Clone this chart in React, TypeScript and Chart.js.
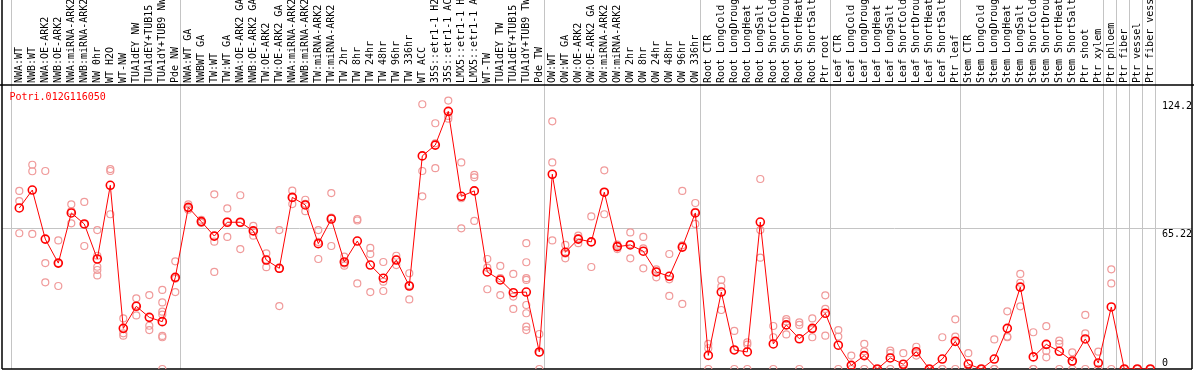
import React, { useEffect, useRef } from 'react';
import { Chart, registerables } from 'chart.js';

Chart.register(...registerables);

const geneId = 'Potri.012G116050';

const categories: string[] = [
  'NWA:WT', 'NWB:WT', 'NWA:OE-ARK2', 'NWB:OE-ARK2', 'NWA:miRNA-ARK2', 'NWB:miRNA-ARK2',
  'NW 0hr', 'WT H2O', 'WT-NW', 'TUA1dEY NW', 'TUA1dEY+TUB15', 'TUA1dY+TUB9 NW', 'Pde NW',
  'NWA:WT GA', 'NWBWT GA', 'TW:WT', 'TW:WT GA', 'NWA:OE-ARK2 GA', 'NWB:OE-ARK2 GA',
  'TW:OE-ARK2', 'TW:OE-ARK2 GA', 'NWA:miRNA-ARK2', 'NWB:miRNA-ARK2', 'TW:miRNA-ARK2',
  'TW:miRNA-ARK2', 'TW 2hr', 'TW 8hr', 'TW 24hr', 'TW 48hr', 'TW 96hr', 'TW 336hr',
  'WT ACC', '35S::etr1-1 H2O', '35S::etr1-1 ACC', 'LMX5::etr1-1 H2O', 'LMX5::etr1-1 ACC',
  'WT-TW', 'TUA1dEY TW', 'TUA1dEY+TUB15', 'TUA1dY+TUB9 TW', 'Pde TW',
  'OW:WT', 'OW:WT GA', 'OW:OE-ARK2', 'OW:OE-ARK2 GA', 'OW:miRNA-ARK2', 'OW:miRNA-ARK2',
  'OW 2hr', 'OW 8hr', 'OW 24hr', 'OW 48hr', 'OW 96hr', 'OW 336hr',
  'Root CTR', 'Root LongCold', 'Root LongDrought', 'Root LongHeat', 'Root LongSalt',
  'Root ShortCold', 'Root ShortDrought', 'Root ShortHeat', 'Root ShortSalt', 'Ptr root',
  'Leaf CTR', 'Leaf LongCold', 'Leaf LongDrought', 'Leaf LongHeat', 'Leaf LongSalt',
  'Leaf ShortCold', 'Leaf ShortDrought', 'Leaf ShortHeat', 'Leaf ShortSalt', 'Ptr leaf',
  'Stem CTR', 'Stem LongCold', 'Stem LongDrought', 'Stem LongHeat', 'Stem LongSalt',
  'Stem ShortCold', 'Stem ShortDrought', 'Stem ShortHeat', 'Stem ShortSalt', 'Ptr shoot',
  'Ptr xylem', 'Ptr phloem', 'Ptr fiber', 'Ptr vessel', 'Ptr fiber vessel',
];

const meanValues: number[] = [
  74.5, 82.8, 60.1, 49.0, 72.2, 67.1, 50.9, 85.0, 18.8, 29.0, 23.9, 21.9, 42.4,
  74.8, 68.2, 61.5, 67.9, 67.9, 63.9, 50.4, 46.6, 79.4, 75.9, 58.0, 69.4, 49.5, 59.2,
  48.1, 42.0, 50.4, 38.4, 98.6, 103.6, 119.2, 79.9, 82.4, 44.9, 41.2, 35.3, 35.6, 7.9,
  90.1, 54.0, 60.1, 58.8, 81.8, 56.6, 57.4, 54.5, 44.9, 42.9, 56.4, 72.2,
  6.3, 35.6, 8.8, 7.9, 68.0, 11.6, 20.4, 14.0, 18.8, 25.8,
  11.0, 1.7, 6.2, 0, 5.1, 2.2, 8.0, 0, 4.6, 12.8,
  2.3, 0, 4.6, 18.8, 37.9, 5.6, 11.4, 8.2, 3.7, 13.9,
  2.8, 28.7, 0, 0, 0,
];

const replicateValues: number[][] = [
  [82.4, 77.7, 62.8], [94.5, 91.5, 62.5], [91.6, 49.0, 40.1], [59.5, 49.0, 38.4],
  [76.2, 73.0, 67.4], [77.3, 67.0, 56.9], [64.3, 52.4, 47.3, 45.8, 43.3], [92.5, 91.6, 71.6],
  [23.4, 16.5, 15.4], [32.7, 29.5, 24.8], [34.2, 20.0, 18.0],
  [36.6, 30.8, 26.5, 25.2, 15.3, 14.7, 0], [49.8, 41.8, 35.6],
  [76.2, 74.5, 73.7], [69.0, 68.0, 67.6], [80.8, 58.9, 44.9], [74.3, 68.2, 61.1],
  [80.4, 67.8, 55.5], [66.2, 63.8, 61.7], [53.5, 50.6, 47.1], [64.3, 46.4, 29.1],
  [82.5, 79.4, 76.3], [78.3, 76.4, 73.0], [64.3, 58.8, 50.9], [81.4, 70.0, 56.9],
  [52.0, 48.8, 47.8], [69.3, 68.7, 39.6], [56.0, 53.2, 35.6], [49.5, 40.4, 36.1],
  [52.4, 50.7, 48.1], [44.3, 38.7, 32.2], [122.5, 91.6, 79.9], [113.7, 104.4, 92.9],
  [124.2, 117.1, 115.8], [95.6, 79.0, 65.1], [89.8, 88.7, 68.5], [50.9, 46.9, 36.9],
  [47.7, 42.0, 34.2], [44.0, 33.5, 27.8], [58.2, 49.4, 42.0, 41.2, 29.6, 25.8, 19.6, 18.0],
  [16.2, 7.5, 0],
  [114.6, 95.6, 59.5], [57.4, 53.4, 51.2], [61.7, 60.4, 58.2], [70.6, 58.8, 47.2],
  [91.9, 81.8, 71.6], [57.5, 56.8, 55.5], [63.2, 57.8, 51.2], [61.1, 55.8, 46.6],
  [46.1, 45.0, 42.4], [53.2, 41.5, 33.8], [82.4, 57.2, 30.1], [76.8, 72.7, 67.1],
  [11.6, 9.6, 0], [41.2, 38.1, 27.3], [17.6, 8.8, 0], [12.3, 11.3, 0], [87.9, 64.3, 51.5],
  [19.9, 14.7, 0], [23.1, 22.0, 16.0], [21.6, 20.4, 0], [23.4, 18.3, 14.7], [34.1, 27.8, 15.4],
  [18.0, 15.0, 0], [6.2, 0, 0], [11.6, 8.2, 0], [0, 0, 0], [8.5, 7.3, 0], [7.3, 0, 0],
  [10.3, 7.5, 6.2], [0, 0, 0], [14.7, 0, 0], [23.0, 15.0, 0],
  [7.3, 0, 0], [0, 0, 0], [13.7, 0, 0], [26.7, 15.0, 14.7], [44.0, 39.9, 29.0],
  [17.0, 0, 0], [19.8, 8.3, 5.4], [13.1, 11.6, 0], [7.7, 3.4, 0], [25.0, 16.5, 0],
  [8.0, 0, 0], [46.1, 39.6, 0], [0, 0, 0], [0, 0, 0], [0, 0, 0],
];

// index of the last column of each group (a separator line follows it)
const groupEnds: number[] = [-1, 12, 40, 52, 62, 72, 83, 84, 85, 86, 87];

const yTickValues: number[] = [0, 65.22, 124.2];
const yAxisMax = 131.4;

const W = 1194;
const H = 370;
const FONT = '"DejaVu Sans Mono", "Liberation Mono", monospace';
const COL_PX = 13;
const FIRST_COL_PX = 19.3;
const PLOT_LEFT = 2;
const PLOT_RIGHT = 1192;
const xMin = -(FIRST_COL_PX - PLOT_LEFT) / COL_PX;
const xMax = xMin + (PLOT_RIGHT - PLOT_LEFT) / COL_PX;
const SEP_OFFSET = 5 / COL_PX;
const GRID = '#c4c4c4';

const chromePlugin = {
  id: 'chrome',
  beforeDatasetsDraw(chart: any) {
    const { ctx, chartArea } = chart;
    ctx.save();
    ctx.strokeStyle = '#000';
    ctx.lineWidth = 1.5;
    ctx.beginPath();
    ctx.moveTo(0, chartArea.top);
    ctx.lineTo(W, chartArea.top);
    ctx.moveTo(chartArea.left, 0);
    ctx.lineTo(chartArea.left, chartArea.bottom);
    ctx.moveTo(chartArea.right, 0);
    ctx.lineTo(chartArea.right, chartArea.bottom);
    ctx.moveTo(chartArea.left, chartArea.bottom);
    ctx.lineTo(chartArea.right, chartArea.bottom);
    ctx.stroke();
    ctx.fillStyle = '#ff0000';
    ctx.font = `10px ${FONT}`;
    ctx.textBaseline = 'middle';
    ctx.textAlign = 'left';
    ctx.fillText(geneId, chartArea.left + 7.5, chartArea.top + 12);
    ctx.restore();
  },
};

export default function App() {
  const ref = useRef<HTMLCanvasElement>(null);

  useEffect(() => {
    const canvas = ref.current;
    if (!canvas) return;
    const meanData = meanValues.map((v, i) => ({ x: i, y: v }));
    const repData = replicateValues.flatMap((arr, i) => arr.map((v) => ({ x: i, y: v })));

    const chart = new Chart(canvas, {
      type: 'line',
      data: {
        datasets: [
          {
            type: 'line',
            label: 'mean',
            data: meanData,
            xAxisID: 'x',
            yAxisID: 'y',
            borderColor: '#ff0000',
            borderWidth: 1,
            pointRadius: 4,
            pointBorderWidth: 1.6,
            pointBorderColor: '#ff0000',
            pointBackgroundColor: 'rgba(0,0,0,0)',
            tension: 0,
            order: 0,
          },
          {
            type: 'scatter',
            label: 'replicates',
            data: repData,
            xAxisID: 'x',
            yAxisID: 'y',
            showLine: false,
            pointRadius: 3.5,
            pointBorderWidth: 1.2,
            pointBorderColor: '#f09a9a',
            pointBackgroundColor: 'rgba(0,0,0,0)',
            borderColor: '#f09a9a',
            order: 1,
          },
        ],
      } as any,
      options: {
        animation: false,
        responsive: false,
        devicePixelRatio: 1,
        events: [],
        layout: {
          autoPadding: false,
          padding: { left: PLOT_LEFT, right: W - PLOT_RIGHT, top: 0, bottom: 1 },
        },
        plugins: {
          legend: { display: false },
          tooltip: { enabled: false },
          title: { display: false },
        },
        scales: {
          x: {
            type: 'linear',
            position: 'top',
            weight: 1,
            min: xMin,
            max: xMax,
            bounds: 'data',
            afterBuildTicks: (s: any) => {
              s.ticks = categories.map((_, i) => ({ value: i }));
            },
            afterFit: (s: any) => {
              s.height = 85;
              s.paddingLeft = 0;
              s.paddingRight = 0;
            },
            ticks: {
              autoSkip: false,
              minRotation: 90,
              maxRotation: 90,
              padding: 2,
              labelOffset: 12,
              color: '#000',
              font: { family: FONT, size: 10 },
              callback: (v: any) => categories[Math.round(Number(v))] ?? '',
            },
            grid: { display: false, drawTicks: false },
            border: { display: false },
          },
          xsep: {
            type: 'linear',
            position: 'top',
            weight: 0,
            min: xMin,
            max: xMax,
            bounds: 'data',
            afterBuildTicks: (s: any) => {
              s.ticks = groupEnds.map((i) => ({ value: i + SEP_OFFSET }));
            },
            afterFit: (s: any) => {
              s.height = 0;
            },
            ticks: { display: false },
            grid: { color: GRID, tickColor: GRID, lineWidth: 1, drawTicks: true, tickLength: 85 },
            border: { display: false },
          },
          y: {
            type: 'linear',
            position: 'right',
            min: 0,
            max: yAxisMax,
            bounds: 'data',
            afterBuildTicks: (s: any) => {
              s.ticks = yTickValues.map((v) => ({ value: v }));
            },
            afterFit: (s: any) => {
              s.width = 0;
              s.paddingTop = 0;
              s.paddingBottom = 0;
            },
            ticks: {
              mirror: true,
              crossAlign: 'far',
              padding: 0,
              color: '#000',
              font: { family: FONT, size: 10 },
              callback: (v: any) => (Number(v) === 0 ? [String(v), ''] : ['', String(v)]),
            },
            grid: {
              drawTicks: false,
              lineWidth: 1,
              color: (c: any) => (c.tick && c.tick.value === yTickValues[1] ? GRID : 'rgba(0,0,0,0)'),
            },
            border: { display: false },
          },
        } as any,
      },
      plugins: [chromePlugin],
    });
    return () => chart.destroy();
  }, []);

  return (
    <div style={{ position: 'absolute', left: 0, top: 0, width: W, height: H }}>
      <canvas ref={ref} width={W} height={H} style={{ display: 'block', width: W, height: H }} />
    </div>
  );
}
